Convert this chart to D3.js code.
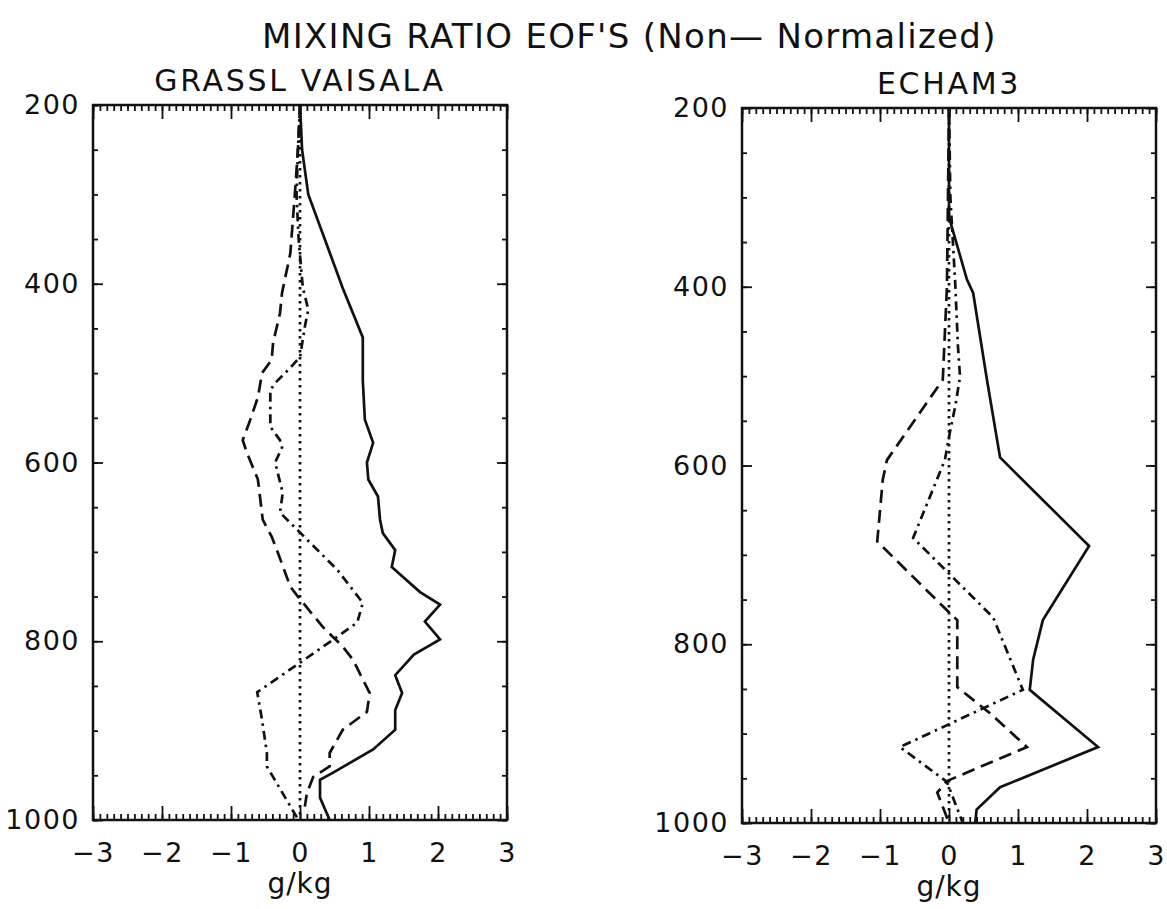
<!DOCTYPE html>
<html>
<head>
<meta charset="utf-8">
<script src="https://cdn.jsdelivr.net/npm/d3@7"></script>
<style>
  body { margin: 0; background: #fff; }
  svg { display: block; font-family: "DejaVu Sans", sans-serif; }
  .frame { fill: none; stroke: #111; stroke-width: 2.5; }
  .tick line { stroke: #111; stroke-width: 1.8; }
  .domain { display: none; }
  .tick text { font-size: 27px; fill: #111; letter-spacing: 1.5px; font-family: "DejaVu Sans", sans-serif; }
  .curve { fill: none; stroke: #111; stroke-width: 2.7; }
  .title { font-size: 34px; fill: #111; letter-spacing: 1.3px; }
  .subtitle { font-size: 30px; fill: #111; letter-spacing: 2.7px; }
  .unit { font-size: 28px; fill: #111; letter-spacing: 1px; }
</style>
</head>
<body>
<svg width="1167" height="909"></svg>
<script>
//////////////////////////////////////////////////////////////////////
// DATA
//   each series is a list of [pressure (hPa), mixing ratio (g/kg)]

// GRASSL VAISALA soundings
var grasslEof1 = [[200,0.0],[250,0.03],[300,0.12],[365,0.43],[405,0.62],[460,0.91],
  [508,0.91],[552,0.94],[578,1.06],[600,0.97],[619,0.99],[638,1.13],[664,1.16],
  [679,1.2],[698,1.38],[717,1.33],[745,1.74],[759,2.03],[778,1.81],[798,2.03],
  [815,1.65],[838,1.38],[858,1.48],[877,1.38],[899,1.38],[921,1.06],[947,0.48],
  [955,0.29],[975,0.29],[1000,0.43]];

var grasslEof2 = [[200,0.0],[250,-0.03],[295,-0.07],[366,-0.14],[410,-0.26],[433,-0.29],
  [466,-0.39],[485,-0.41],[500,-0.55],[527,-0.61],[552,-0.72],[575,-0.83],[589,-0.77],
  [619,-0.61],[664,-0.54],[683,-0.41],[701,-0.32],[739,-0.14],[750,-0.03],[784,0.33],
  [806,0.62],[821,0.77],[858,1.01],[879,0.97],[899,0.62],[925,0.43],[940,0.43],
  [952,0.19],[970,0.1],[985,0.07]];

var grasslEof3 = [[200,0.0],[250,-0.03],[300,-0.05],[350,-0.02],[404,0.04],[429,0.12],
  [448,0.07],[482,0.0],[494,-0.14],[511,-0.36],[519,-0.43],[560,-0.43],[575,-0.29],
  [583,-0.26],[600,-0.36],[634,-0.25],[656,-0.29],[720,0.54],[757,0.91],[779,0.83],
  [795,0.54],[824,0.0],[857,-0.62],[888,-0.55],[925,-0.48],[940,-0.48],[990,-0.1],
  [1000,-0.02]];

// ECHAM3 model
var echamEof1 = [[200,0.0],[322,0.0],[392,0.26],[407,0.35],[504,0.55],[591,0.74],
  [690,2.03],[773,1.36],[817,1.22],[851,1.17],[915,2.16],[960,0.74],[985,0.4],[1000,0.38]];

var echamEof2 = [[200,0.0],[400,-0.03],[504,-0.09],[594,-0.9],[616,-0.96],[685,-1.04],
  [762,-0.03],[773,0.12],[848,0.12],[877,0.59],[915,1.13],[953,-0.03],[966,-0.17],
  [1000,0.0]];

var echamEof3 = [[200,0.0],[300,0.02],[396,0.09],[467,0.13],[501,0.16],[534,0.09],
  [564,0.01],[594,-0.06],[681,-0.52],[770,0.64],[851,1.07],[915,-0.71],[954,-0.03],
  [1000,0.2]];

// zero reference line
var zeroLine = [[200,0],[1000,0]];

// axis ticks
var xTicks = [-3, -2, -1, 0, 1, 2, 3];
var xMinor = d3.range(-30, 31).map(function(d) { return d / 10; });
var yTicks = [200, 400, 600, 800, 1000];
var yMinor = d3.range(200, 1001, 50);

// text
var mainTitle = "MIXING RATIO EOF'S (Non\u2014 Normalized)";
var unitLabel = "g/kg";

//////////////////////////////////////////////////////////////////////

var svg = d3.select("svg");

// panel size
var w = 414;
var h = 715;

// scales shared by both panels
var x = d3.scaleLinear().domain([-3, 3]).range([0, w]);
var y = d3.scaleLinear().domain([200, 1000]).range([0, h]);

// integer labels, real minus sign, no thousands comma
var fmt = d3.format("d");

// line styles: solid, dashed, dash-dot, dotted
var styles = {
  solid: null,
  dashed: "13,7",
  dashdot: "9,5,2.5,5",
  dotted: "2.5,4.5"
};

var line = d3.line()
             .x(function(d) { return x(d[1]); })
             .y(function(d) { return y(d[0]); });

// main title
svg.append("text")
   .attr("class", "title")
   .attr("x", 262)
   .attr("y", 48)
   .text(mainTitle);

// draw one panel
function drawPanel(left, top, name, series) {

  var g = svg.append("g")
             .attr("transform", "translate(" + left + "," + top + ")");

  // panel name above the frame
  g.append("text")
   .attr("class", "subtitle")
   .attr("x", w / 2)
   .attr("y", -14)
   .attr("text-anchor", "middle")
   .text(name);

  // minor ticks on all four sides
  g.append("g")
   .attr("transform", "translate(0," + h + ")")
   .call(d3.axisBottom(x).tickValues(xMinor).tickSize(-6).tickFormat(""));
  g.append("g")
   .call(d3.axisTop(x).tickValues(xMinor).tickSize(-6).tickFormat(""));
  g.append("g")
   .call(d3.axisLeft(y).tickValues(yMinor).tickSize(-5).tickFormat(""));
  g.append("g")
   .attr("transform", "translate(" + w + ",0)")
   .call(d3.axisRight(y).tickValues(yMinor).tickSize(-5).tickFormat(""));

  // major ticks, with labels on bottom and left
  g.append("g")
   .attr("transform", "translate(0," + h + ")")
   .call(d3.axisBottom(x).tickValues(xTicks).tickSize(-14).tickPadding(23).tickFormat(fmt));
  g.append("g")
   .call(d3.axisTop(x).tickValues(xTicks).tickSize(-14).tickFormat(""));
  g.append("g")
   .call(d3.axisLeft(y).tickValues(yTicks).tickSize(-10).tickPadding(13).tickFormat(fmt));
  g.append("g")
   .attr("transform", "translate(" + w + ",0)")
   .call(d3.axisRight(y).tickValues(yTicks).tickSize(-10).tickFormat(""));

  // curves
  g.selectAll("path.curve")
   .data(series)
   .enter()
   .append("path")
   .attr("class", "curve")
   .attr("d", function(d) { return line(d.values); })
   .style("stroke-dasharray", function(d) { return styles[d.style]; });

  // frame
  g.append("rect")
   .attr("class", "frame")
   .attr("width", w)
   .attr("height", h);

  // unit label
  g.append("text")
   .attr("class", "unit")
   .attr("x", x(0))
   .attr("y", h + 73)
   .attr("text-anchor", "middle")
   .text(unitLabel);

} // end drawPanel

drawPanel(93, 105, "GRASSL VAISALA", [
  {values: zeroLine, style: "dotted"},
  {values: grasslEof1, style: "solid"},
  {values: grasslEof2, style: "dashed"},
  {values: grasslEof3, style: "dashdot"}
]);

drawPanel(742, 108, "ECHAM3", [
  {values: zeroLine, style: "dotted"},
  {values: echamEof1, style: "solid"},
  {values: echamEof2, style: "dashed"},
  {values: echamEof3, style: "dashdot"}
]);
</script>
</body>
</html>
